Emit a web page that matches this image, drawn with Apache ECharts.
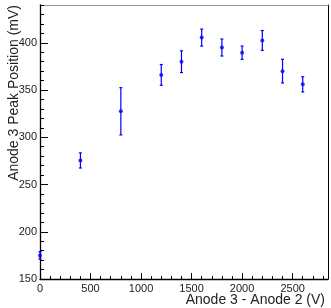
<!DOCTYPE html>
<html>
<head>
<meta charset="utf-8">
<script src="https://cdn.jsdelivr.net/npm/echarts@6/dist/echarts.min.js"></script>
<style>
  html, body { margin: 0; padding: 0; background: #fff; }
  #chart { width: 331px; height: 308px; }
</style>
</head>
<body>
<div id="chart"></div>
<script>
// anode 3 - anode 2 voltage (V)
var voltages = [0, 400, 800, 1200, 1400, 1600, 1800, 2000, 2200, 2400, 2600];
// peak position (mV) and its error
var peaks = [175, 275.5, 327.5, 366, 380, 405.5, 395, 389.5, 402.5, 370, 356];
var errors = [4, 8, 25, 11, 11.5, 9, 9, 7, 10.5, 12.5, 8];

var xMin = 0, xMax = 2850;
var yMin = 150, yMax = 440;

var font = 'Liberation Sans, Arial, sans-serif';

var chart = echarts.init(document.getElementById('chart'));

var points = [];
var bars = [];
for (var i = 0; i < voltages.length; i++) {
    points.push([voltages[i], peaks[i]]);
    bars.push([voltages[i], peaks[i] - errors[i], peaks[i] + errors[i]]);
}

function renderError(params, api) {
    var lo = api.coord([api.value(0), api.value(1)]);
    var hi = api.coord([api.value(0), api.value(2)]);
    var cap = 1.5;
    var style = { stroke: '#0000ff', lineWidth: 1.2 };
    return {
        type: 'group',
        children: [
            { type: 'line', shape: { x1: lo[0], y1: lo[1], x2: hi[0], y2: hi[1] }, style: style },
            { type: 'line', shape: { x1: lo[0] - cap, y1: lo[1], x2: lo[0] + cap, y2: lo[1] }, style: style },
            { type: 'line', shape: { x1: hi[0] - cap, y1: hi[1], x2: hi[0] + cap, y2: hi[1] }, style: style }
        ]
    };
}

function plain(v) {
    return String(v);
}

var option = {
    backgroundColor: '#fff',
    animation: false,
    grid: {
        left: 40, right: 3, top: 5, bottom: 29,
        show: false
    },
    xAxis: [
        {
            type: 'value', min: xMin, max: xMax, interval: 500, position: 'bottom',
            axisLine: { onZero: false, lineStyle: { color: '#000', width: 1.3 } },
            axisTick: { inside: true, length: 6, lineStyle: { color: '#000' } },
            axisLabel: { color: '#222', fontSize: 11, fontFamily: font, margin: 4, showMaxLabel: false, formatter: plain },
            splitLine: { show: false }
        },
        {
            type: 'value', min: xMin, max: xMax, interval: 100, position: 'bottom',
            axisLine: { show: false, onZero: false },
            axisTick: { inside: true, length: 3, lineStyle: { color: '#000' } },
            axisLabel: { show: false },
            splitLine: { show: false }
        },
        {
            type: 'value', min: xMin, max: xMax, position: 'top',
            axisLine: { show: true, onZero: false, lineStyle: { color: '#999', width: 1 } },
            axisTick: { show: false },
            axisLabel: { show: false },
            splitLine: { show: false }
        }
    ],
    yAxis: [
        {
            type: 'value', min: yMin, max: yMax, interval: 50, position: 'left',
            axisLine: { show: true, onZero: false, lineStyle: { color: '#000', width: 1.3 } },
            axisTick: { show: true, inside: true, length: 8, lineStyle: { color: '#000' } },
            axisLabel: { color: '#222', fontSize: 11, fontFamily: font, margin: 3, showMaxLabel: false, formatter: plain },
            splitLine: { show: false }
        },
        {
            type: 'value', min: yMin, max: yMax, interval: 10, position: 'left',
            axisLine: { show: false, onZero: false },
            axisTick: { show: true, inside: true, length: 4, lineStyle: { color: '#000' } },
            axisLabel: { show: false },
            splitLine: { show: false }
        },
        {
            type: 'value', min: yMin, max: yMax, position: 'right',
            axisLine: { show: true, onZero: false, lineStyle: { color: '#000', width: 1 } },
            axisTick: { show: false },
            axisLabel: { show: false },
            splitLine: { show: false }
        }
    ],
    graphic: [
        {
            type: 'text', right: 6, bottom: 1,
            style: { text: 'Anode 3 - Anode 2 (V)', fill: '#222', font: '14px ' + font }
        },
        {
            type: 'text', x: 14, y: 5, rotation: Math.PI / 2,
            style: {
                text: 'Anode 3 Peak Position (mV)', fill: '#222', font: '14px ' + font,
                align: 'right', verticalAlign: 'middle'
            }
        }
    ],
    series: [
        {
            type: 'custom',
            xAxisIndex: 0, yAxisIndex: 0,
            renderItem: renderError,
            data: bars,
            clip: false,
            z: 2
        },
        {
            type: 'scatter',
            xAxisIndex: 0, yAxisIndex: 0,
            symbol: 'circle', symbolSize: 4,
            itemStyle: { color: '#0000ff' },
            data: points,
            clip: false,
            z: 3
        }
    ]
};

chart.setOption(option);
</script>
</body>
</html>
